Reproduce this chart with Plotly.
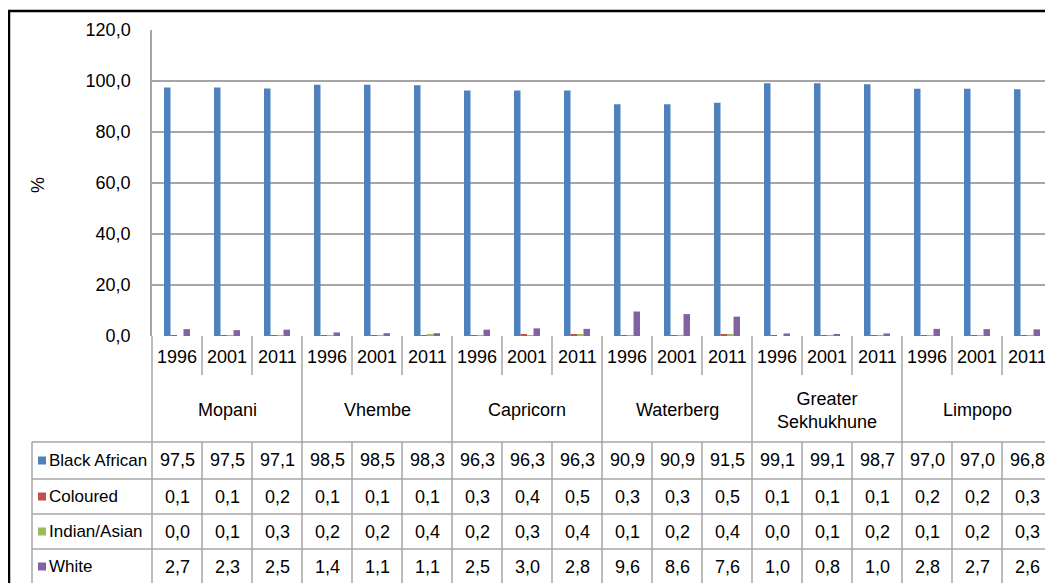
import plotly.graph_objects as go

# population group share by district, Limpopo (census years)
districts = ["Mopani", "Vhembe", "Capricorn", "Waterberg", "Greater<br>Sekhukhune", "Limpopo"]
years = ["1996", "2001", "2011"]
groups = ["Black African", "Coloured", "Indian/Asian", "White"]

black_african = [97.5, 97.5, 97.1, 98.5, 98.5, 98.3, 96.3, 96.3, 96.3,
                 90.9, 90.9, 91.5, 99.1, 99.1, 98.7, 97.0, 97.0, 96.8]
coloured = [0.1, 0.1, 0.2, 0.1, 0.1, 0.1, 0.3, 0.4, 0.5,
            0.3, 0.3, 0.5, 0.1, 0.1, 0.1, 0.2, 0.2, 0.3]
indian_asian = [0.0, 0.1, 0.3, 0.2, 0.2, 0.4, 0.2, 0.3, 0.4,
                0.1, 0.2, 0.4, 0.0, 0.1, 0.2, 0.1, 0.2, 0.3]
white = [2.7, 2.3, 2.5, 1.4, 1.1, 1.1, 2.5, 3.0, 2.8,
         9.6, 8.6, 7.6, 1.0, 0.8, 1.0, 2.8, 2.7, 2.6]

y_ticks = [0, 20, 40, 60, 80, 100, 120]

COLORS = ["#4F81BD", "#C0504D", "#9BBB59", "#8064A2"]
FONT = "Liberation Sans, Arial, sans-serif"
FS = 18
LINE = "#A6A6A6"

OFF = 8  # page body margin
W, H = 1053 - OFF, 583 - OFF
L, R, T, B = 152, 1052, 30, 336  # plot area, page pixels


def px(x):
    return (x - L) / (R - L)


def py(y):
    return (B - y) / (B - T)


def label(x, y, text, xref="x", **kw):
    d = dict(x=x, y=y, xref=xref, yref="paper", text=text, showarrow=False,
             xanchor="center", yanchor="middle")
    d.update(kw)
    return d


series = [black_african, coloured, indian_asian, white]
n = len(black_african)
xs = list(range(n))

fig = go.Figure()
for name, vals, col in zip(groups, series, COLORS):
    fig.add_trace(go.Bar(x=xs, y=vals, name=name, marker_color=col,
                         marker_line_width=0, showlegend=False))

shapes = []
ann = []

# outer frame
shapes.append(dict(type="rect", xref="paper", yref="paper",
                   x0=px(9), x1=px(1080), y0=py(11), y1=py(600),
                   line=dict(color="black", width=2.5), layer="above"))

row_year_bot = 375
row_head_bot = 442
data_rows = [442, 479, 514, 549, 590]

# header section lines
shapes.append(dict(type="line", xref="paper", yref="paper",
                   x0=0, x1=0, y0=py(B), y1=py(data_rows[-1]),
                   line=dict(color=LINE, width=1.5)))
for i in range(1, n + 1):
    xb = i - 0.5
    y_end = data_rows[-1] if i % 3 == 0 else row_year_bot
    shapes.append(dict(type="line", xref="x", yref="paper",
                       x0=xb, x1=xb, y0=py(B), y1=py(y_end),
                       line=dict(color=LINE, width=1.5)))
    if i % 3 != 0:
        shapes.append(dict(type="line", xref="x", yref="paper",
                           x0=xb, x1=xb, y0=py(row_head_bot), y1=py(data_rows[-1]),
                           line=dict(color=LINE, width=1.5)))

# data table rows
for yr in data_rows:
    shapes.append(dict(type="line", xref="paper", yref="paper",
                       x0=px(32), x1=px(R), y0=py(yr), y1=py(yr),
                       line=dict(color=LINE, width=1.5)))
shapes.append(dict(type="line", xref="paper", yref="paper",
                   x0=px(32), x1=px(32), y0=py(data_rows[0]), y1=py(data_rows[-1]),
                   line=dict(color=LINE, width=1.5)))

# year labels and district labels
for i in range(n):
    ann.append(label(i, py(357), years[i % 3]))
for d, name in enumerate(districts):
    ann.append(label(d * 3 + 1, py(410), name))

# table body
for r, (name, vals, col) in enumerate(zip(groups, series, COLORS)):
    yc = (data_rows[r] + min(data_rows[r + 1], 584)) / 2
    shapes.append(dict(type="rect", xref="paper", yref="paper",
                       x0=px(38), x1=px(46), y0=py(yc - 4), y1=py(yc + 4),
                       fillcolor=col, line_width=0))
    ann.append(label(px(47), py(yc), name, xref="paper", xanchor="left",
                     font=dict(size=17)))
    for i, v in enumerate(vals):
        ann.append(label(i, py(yc), f"{v:.1f}".replace(".", ",")))

# y axis title
ann.append(label(px(38), py(185), "%", xref="paper", textangle=-90))

fig.update_layout(
    width=W, height=H,
    margin=dict(l=L - OFF, r=W - (R - OFF), t=T - OFF, b=H - (B - OFF), pad=0),
    paper_bgcolor="white", plot_bgcolor="white",
    font=dict(family=FONT, size=FS, color="black"),
    barmode="group", bargap=0.48, bargroupgap=0,
    separators=",.",
    shapes=shapes, annotations=ann,
)
fig.update_xaxes(range=[-0.5, n - 0.5], showticklabels=False, showgrid=False,
                 zeroline=False, showline=False)
fig.update_yaxes(range=[0, 120], tickvals=y_ticks, tickformat=".1f",
                 showgrid=True, gridcolor=LINE, gridwidth=1.5,
                 zeroline=False, showline=True, linecolor=LINE, linewidth=1.5,
                 ticks="", ticklabelstandoff=16)

fig.write_html("out.html")
